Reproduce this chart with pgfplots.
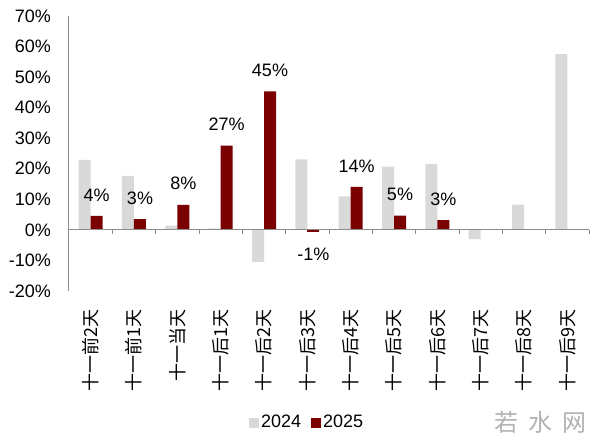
\documentclass[border=0pt]{standalone}
\usepackage{pgfplots}
\pgfplotsset{compat=1.18}
\usepackage{fontspec}
\setmainfont{Liberation Sans}
\newfontfamily\cjk{Noto Sans CJK SC}
\definecolor{g24}{HTML}{D9D9D9}
\definecolor{r25}{HTML}{7B0000}
\definecolor{axg}{HTML}{8C8C8C}
\begin{document}
\fontsize{18bp}{21bp}\selectfont
\begin{tikzpicture}
\begin{axis}[
  scale only axis, width=520bp, height=275bp,
  xmin=-0.5, xmax=11.5, ymin=-20, ymax=70,
  axis x line*=bottom, axis y line*=left,
  x axis line style={draw=none},
  y axis line style={draw=axg, line width=1bp, -},
  xtick={0,...,11},
  xticklabels={十一前2天,十一前1天,十一当天,十一后1天,十一后2天,十一后3天,十一后4天,十一后5天,十一后6天,十一后7天,十一后8天,十一后9天},
  xtick style={draw=none}, ytick style={draw=none},
  xticklabel style={rotate=90, anchor=east, font=\fontsize{18bp}{21bp}\selectfont\cjk},
  xticklabel shift=8bp,
  ytick={-20,-10,0,10,20,30,40,50,60,70},
  yticklabels={-20\%,-10\%,0\%,10\%,20\%,30\%,40\%,50\%,60\%,70\%},
  yticklabel style={font=\fontsize{18bp}{21bp}\selectfont},
  yticklabel shift=12bp,
  ybar=0pt, bar width=12bp,
  clip=false,
  legend columns=2,
  legend style={at={(0.458,-0.48)}, anchor=center, draw=none, fill=none,
    font=\fontsize{18bp}{21bp}\selectfont,
    /tikz/every even column/.append style={column sep=8bp},
    inner sep=0pt},
  legend image code/.code={\fill[#1] (0bp,-5bp) rectangle (10bp,5bp);},
]
\addplot[fill=g24, draw=none] coordinates {
 (0,22.9) (1,17.7) (2,1.4) (3,0.5) (4,-10.5) (5,23.1) (6,11.0) (7,20.7) (8,21.6) (9,-3.0) (10,8.3) (11,57.5)};
\addplot[fill=r25, draw=none, nodes near coords, point meta=explicit symbolic,
  every node near coord/.append style={font=\fontsize{18bp}{21bp}\selectfont, text=black, inner ysep=14.5bp, inner xsep=0pt, anchor=south}] coordinates {
 (0,4.6)[4\%] (1,3.5)[3\%] (2,8.2)[8\%] (3,27.6)[27\%] (4,45.3)[45\%] (6,14.1)[14\%] (7,4.7)[5\%] (8,3.2)[3\%]};
\legend{2024,2025}
\addplot[fill=r25, draw=none, bar shift=6bp, forget plot, nodes near coords, point meta=explicit symbolic,
  every node near coord/.append style={font=\fontsize{18bp}{21bp}\selectfont, text=black, inner ysep=16bp, inner xsep=0pt, anchor=north}] coordinates {
 (5,-0.7)[-1\%]};
\draw[axg, line width=1bp] (axis cs:-0.5,0) -- (axis cs:11.5,0);
\pgfplotsinvokeforeach{0,...,11}{
  \draw[axg, line width=1bp] (axis cs:#1.5,0) -- (axis cs:#1.5,-1.3);
}
\node[text=black!30, font=\fontsize{24bp}{26bp}\selectfont\cjk, anchor=center] at (rel axis cs:0.906,-0.478) {若\hspace{10bp}水\hspace{10bp}网};
\end{axis}
\pgfresetboundingbox
\useasboundingbox (current axis.south west) ++(-69bp,-153bp) rectangle ++(600bp,444bp);
\end{tikzpicture}
\end{document}
